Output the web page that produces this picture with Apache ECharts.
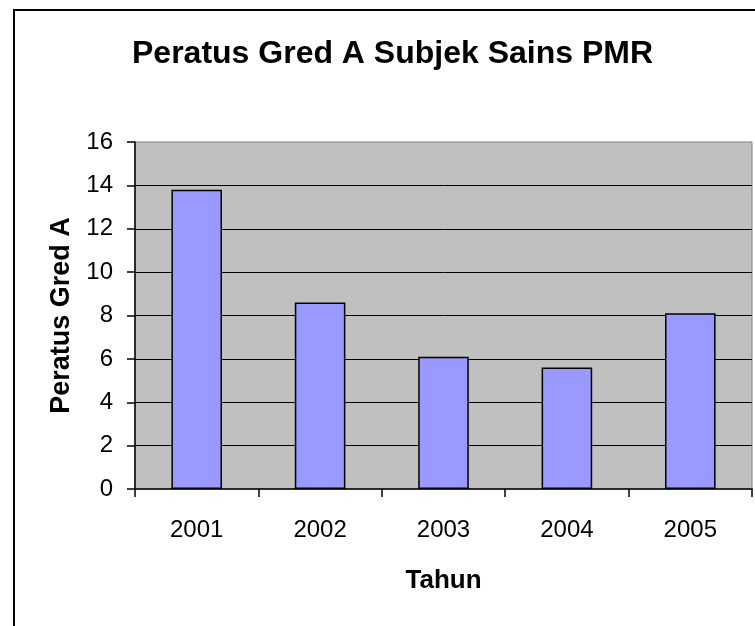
<!DOCTYPE html>
<html>
<head>
<meta charset="utf-8">
<script src="https://cdn.jsdelivr.net/npm/echarts@6/dist/echarts.min.js"></script>
<style>html,body{margin:0;padding:0;background:#fff;}#c{width:755px;height:626px;}</style>
</head>
<body>
<div id="c"></div>
<script>
const titleText = 'Peratus Gred A Subjek Sains PMR';
const categories = ['2001', '2002', '2003', '2004', '2005'];
const values = [13.8, 8.6, 6.1, 5.6, 8.1];
const xName = 'Tahun';
const yName = 'Peratus Gred A';

const FONT = "'Liberation Sans', Arial, sans-serif";
const chart = echarts.init(document.getElementById('c'), null, {renderer: 'canvas'});
chart.setOption({
  animation: false,
  backgroundColor: '#ffffff',
  title: {
    text: titleText,
    left: 132,
    top: 38,
    padding: 0,
    textStyle: {fontFamily: FONT, fontSize: 32, fontWeight: 'bold', color: '#000'}
  },
  graphic: [{
    type: 'rect',
    shape: {x: 14, y: 10, width: 800, height: 700},
    style: {fill: 'none', stroke: '#000', lineWidth: 2},
    silent: true,
    z: 100
  }],
  grid: {
    left: 135, right: 3, top: 142, bottom: 137,
    show: true,
    backgroundColor: '#C0C0C0',
    borderColor: '#808080',
    borderWidth: 1
  },
  xAxis: {
    type: 'category',
    data: categories,
    name: xName,
    nameLocation: 'middle',
    nameGap: 79,
    nameTextStyle: {fontFamily: FONT, fontSize: 26, fontWeight: 'bold', color: '#000'},
    axisLine: {lineStyle: {color: '#000', width: 1.5}},
    axisTick: {show: true, length: 8, lineStyle: {color: '#000', width: 1.5}},
    axisLabel: {fontFamily: FONT, fontSize: 24, color: '#000', margin: 29}
  },
  yAxis: {
    type: 'value',
    min: 0, max: 16, interval: 2,
    name: yName,
    nameLocation: 'middle',
    nameGap: 60,
    nameTextStyle: {fontFamily: FONT, fontSize: 27, fontWeight: 'bold', color: '#000'},
    axisLine: {show: true, lineStyle: {color: '#000', width: 1.5}},
    axisTick: {show: true, length: 8, lineStyle: {color: '#000', width: 1.5}},
    axisLabel: {fontFamily: FONT, fontSize: 24, color: '#000', margin: 22},
    splitLine: {show: true, showMinLine: false, showMaxLine: false, lineStyle: {color: '#000', width: 1}}
  },
  series: [{
    type: 'bar',
    data: values,
    barWidth: '41%',
    itemStyle: {color: '#9999FF', borderColor: '#000', borderWidth: 1.5}
  }]
});
</script>
</body>
</html>
